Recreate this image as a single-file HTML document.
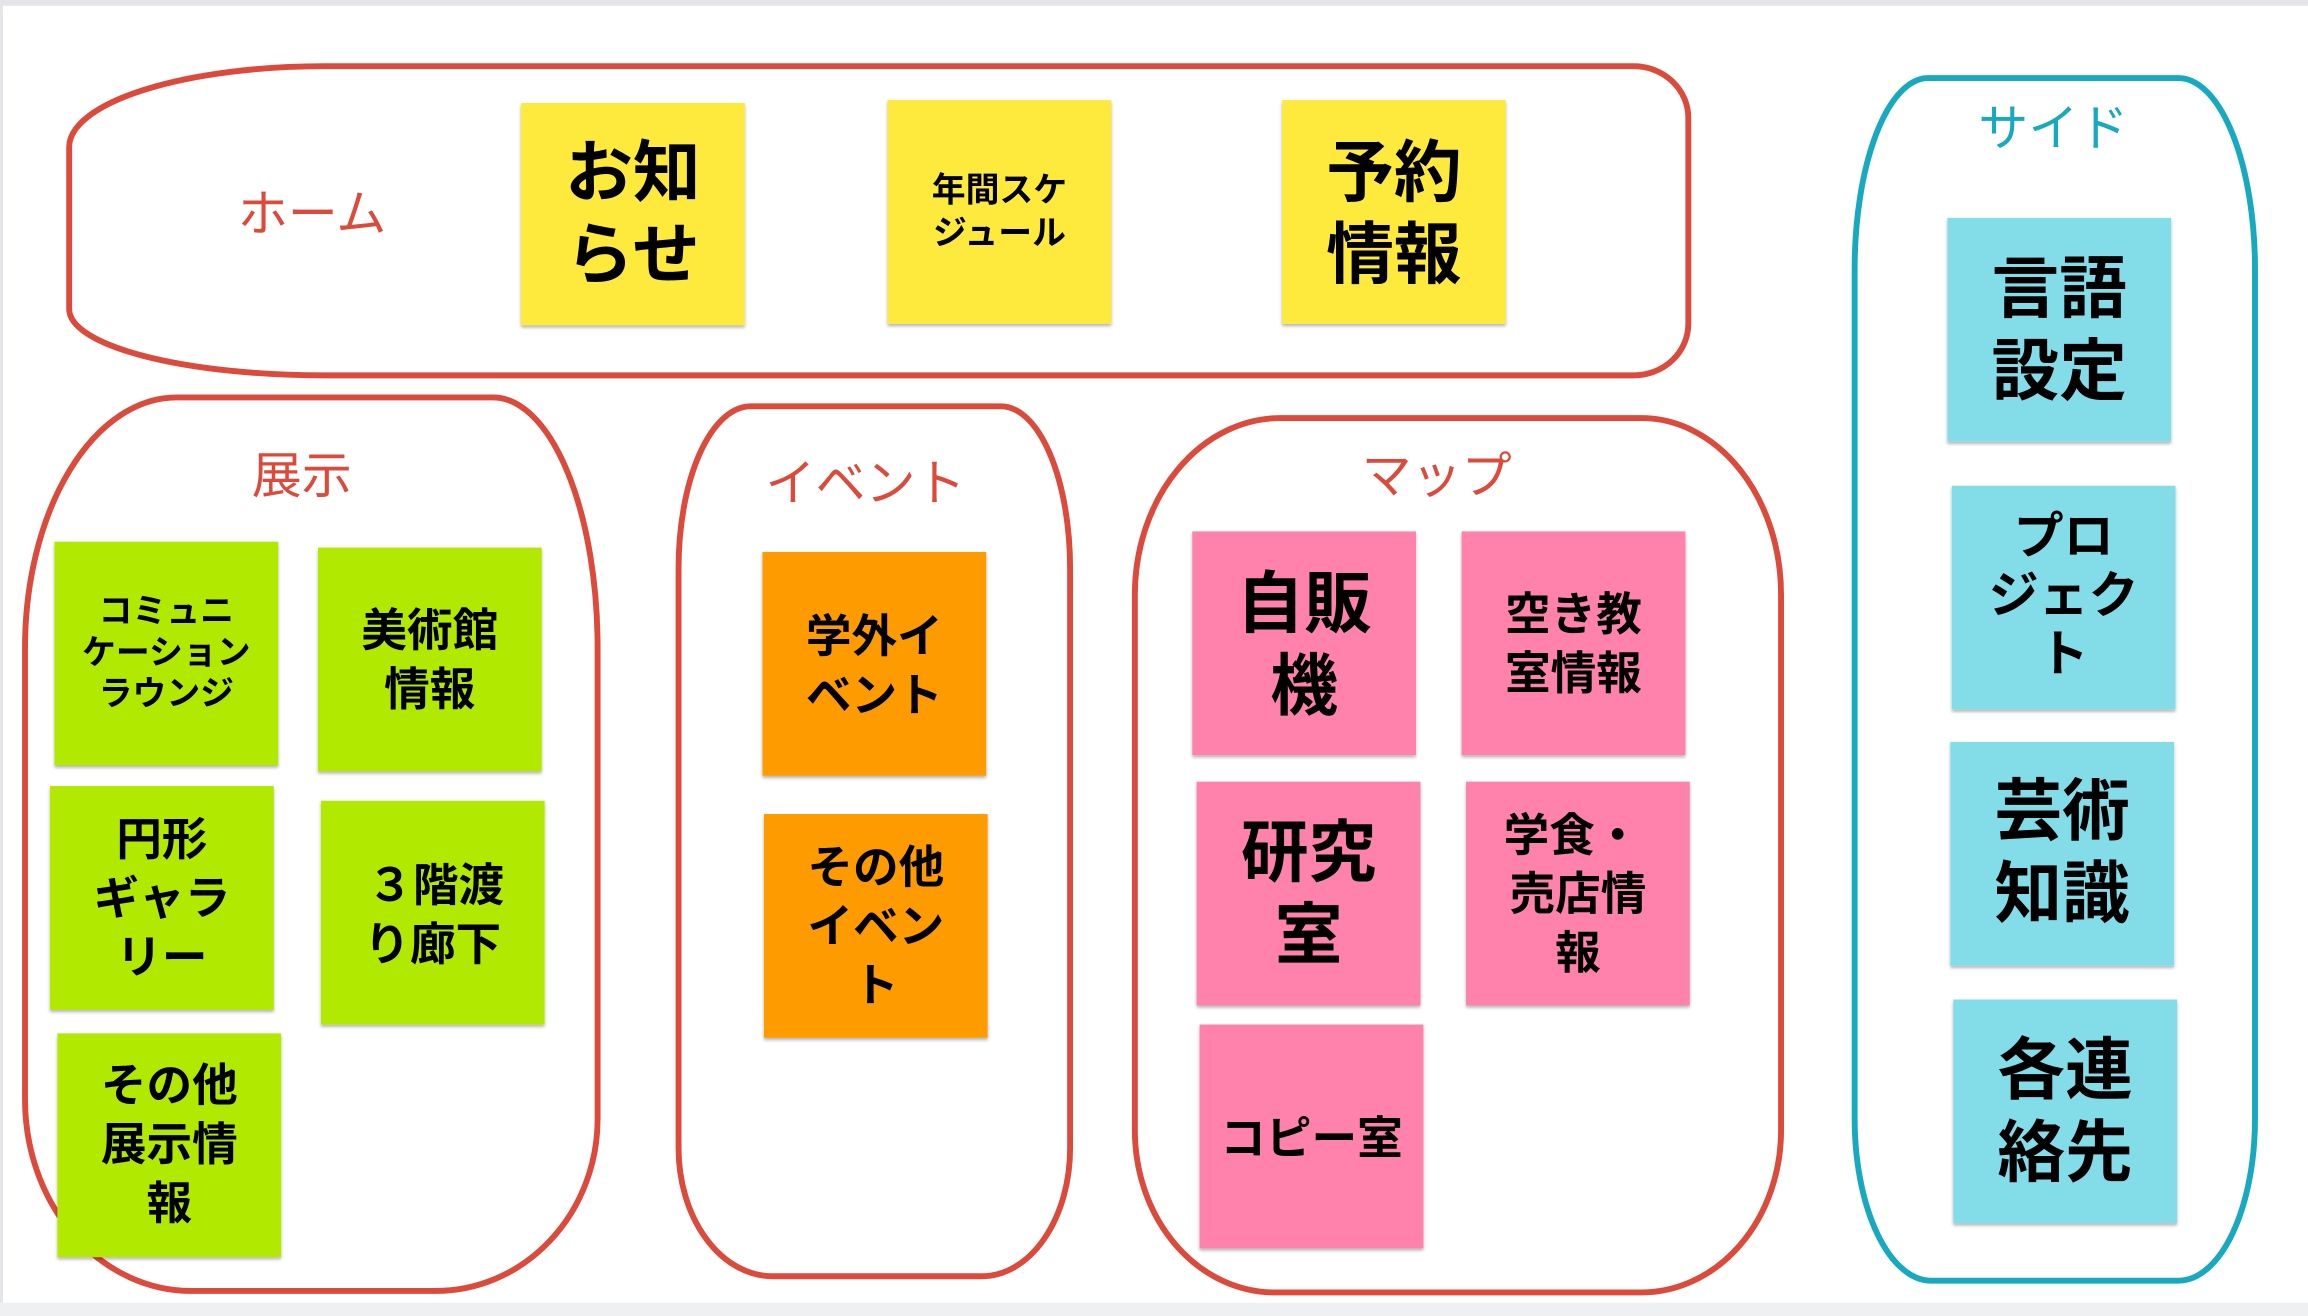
<!DOCTYPE html>
<html><head><meta charset="utf-8"><style>
html,body{margin:0;padding:0;background:#fff;}
svg{display:block;}
text{font-family:"Liberation Sans","Noto Sans CJK JP",sans-serif;}
.s{font-weight:bold;fill:#000;text-anchor:middle;}
.l{fill:#dc4a3c;text-anchor:middle;font-size:34px;}
</style></head><body>
<svg width="2308" height="1316" viewBox="0 0 1568 894" preserveAspectRatio="none" xmlns="http://www.w3.org/2000/svg">
<defs><filter id="sh" x="-10%" y="-10%" width="120%" height="120%"><feDropShadow dx="0" dy="1.5" stdDeviation="1" flood-color="#000" flood-opacity="0.3"/></filter></defs>
<rect x="0" y="0" width="1568" height="894" fill="#fff"/>
<rect x="0" y="0" width="1568" height="4" fill="#e4e5e8"/>
<rect x="0" y="0" width="2" height="894" fill="#e4e5e8"/>
<rect x="0" y="885" width="1568" height="9" fill="#eef0f2"/>

<g fill="none" stroke-width="4">
<path d="M220,45 H1110 A37,35 0 0 1 1147,80 V220 A37,35 0 0 1 1110,255 H220 A173,45 0 0 1 47,210 V100 A173,55 0 0 1 220,45 Z" stroke="#dc4a3c"/>
<path d="M120,270 H335 A71,170 0 0 1 406,440 V760 A110,117 0 0 1 296,877 H130 A113,130 0 0 1 17,747 V440 A103,170 0 0 1 120,270 Z" stroke="#dc4a3c"/>
<path d="M510,276 H680 A47,110 0 0 1 727,386 V780 A60,87 0 0 1 667,867 H525 A64,87 0 0 1 461,780 V386 A49,110 0 0 1 510,276 Z" stroke="#dc4a3c"/>
<path d="M870,284 H1115 A95,120 0 0 1 1210,404 V768 A95,110 0 0 1 1115,878 H866 A95,110 0 0 1 771,768 V404 A99,120 0 0 1 870,284 Z" stroke="#dc4a3c"/>
<path d="M1310,53 H1480 A52,130 0 0 1 1532,183 V760 A52,110 0 0 1 1480,870 H1312 A52,110 0 0 1 1260,760 V183 A50,130 0 0 1 1310,53 Z" stroke="#16a9c0"/>
</g>

<text class="l" x="212" y="157">ホーム</text>
<text class="l" x="205" y="335">展示</text>
<text class="l" x="588" y="340">イベント</text>
<text class="l" x="976" y="335">マップ</text>
<text class="l" x="1395" y="99" style="fill:#16a9c0">サイド</text>

<g filter="url(#sh)">
<rect x="354" y="70" width="152" height="151" fill="#fee93d"/>
<rect x="603" y="68" width="152" height="152" fill="#fee93d"/>
<rect x="871" y="68" width="152" height="152" fill="#fee93d"/>
<rect x="37" y="368" width="152" height="152" fill="#b1e900"/>
<rect x="216" y="372" width="152" height="152" fill="#b1e900"/>
<rect x="34" y="534" width="152" height="152" fill="#b1e900"/>
<rect x="218" y="544" width="152" height="152" fill="#b1e900"/>
<rect x="39" y="702" width="152" height="152" fill="#b1e900"/>
<rect x="518" y="375" width="152" height="152" fill="#fe9b05"/>
<rect x="519" y="553" width="152" height="152" fill="#fe9b05"/>
<rect x="810" y="361" width="152" height="152" fill="#fe82ab"/>
<rect x="993" y="361" width="152" height="152" fill="#fe82ab"/>
<rect x="813" y="531" width="152" height="152" fill="#fe82ab"/>
<rect x="996" y="531" width="152" height="152" fill="#fe82ab"/>
<rect x="815" y="696" width="152" height="152" fill="#fe82ab"/>
<rect x="1323" y="148" width="152" height="152" fill="#83dde9"/>
<rect x="1326" y="330" width="152" height="152" fill="#83dde9"/>
<rect x="1325" y="504" width="152" height="152" fill="#83dde9"/>
<rect x="1327" y="679" width="152" height="152" fill="#83dde9"/>
</g>

<text class="s" font-size="46"><tspan x="430" y="133">お知</tspan><tspan x="430" y="189">らせ</tspan></text>
<text class="s" font-size="23"><tspan x="679" y="137">年間スケ</tspan><tspan x="679" y="166">ジュール</tspan></text>
<text class="s" font-size="46"><tspan x="947" y="133">予約</tspan><tspan x="947" y="189">情報</tspan></text>

<text class="s" font-size="23"><tspan x="113" y="423">コミュニ</tspan><tspan x="113" y="451">ケーション</tspan><tspan x="113" y="479">ラウンジ</tspan></text>
<text class="s" font-size="31"><tspan x="292" y="439">美術館</tspan><tspan x="292" y="479">情報</tspan></text>
<text class="s" font-size="31"><tspan x="110" y="581">円形</tspan><tspan x="110" y="621">ギャラ</tspan><tspan x="110" y="661">リー</tspan></text>
<text class="s" font-size="31"><tspan x="296" y="612">３階渡</tspan><tspan x="294" y="652">り廊下</tspan></text>
<text class="s" font-size="31"><tspan x="115" y="748">その他</tspan><tspan x="115" y="788">展示情</tspan><tspan x="115" y="828">報</tspan></text>

<text class="s" font-size="31"><tspan x="594" y="443">学外イ</tspan><tspan x="594" y="483">ベント</tspan></text>
<text class="s" font-size="31"><tspan x="595" y="600">その他</tspan><tspan x="595" y="640">イベン</tspan><tspan x="595" y="680">ト</tspan></text>

<text class="s" font-size="46"><tspan x="886" y="426">自販</tspan><tspan x="886" y="482">機</tspan></text>
<text class="s" font-size="31"><tspan x="1069" y="428">空き教</tspan><tspan x="1069" y="468">室情報</tspan></text>
<text class="s" font-size="46"><tspan x="889" y="595">研究</tspan><tspan x="889" y="651">室</tspan></text>
<text class="s" font-size="31"><tspan x="1068" y="578">学食・</tspan><tspan x="1072" y="618">売店情</tspan><tspan x="1072" y="658">報</tspan></text>
<text class="s" font-size="31"><tspan x="891" y="784">コピー室</tspan></text>

<text class="s" font-size="46"><tspan x="1399" y="212">言語</tspan><tspan x="1399" y="268">設定</tspan></text>
<text class="s" font-size="34"><tspan x="1402" y="376">プロ</tspan><tspan x="1402" y="416">ジェク</tspan><tspan x="1402" y="456">ト</tspan></text>
<text class="s" font-size="46"><tspan x="1401" y="567">芸術</tspan><tspan x="1401" y="623">知識</tspan></text>
<text class="s" font-size="46"><tspan x="1403" y="743">各連</tspan><tspan x="1403" y="799">絡先</tspan></text>
</svg>
</body></html>
